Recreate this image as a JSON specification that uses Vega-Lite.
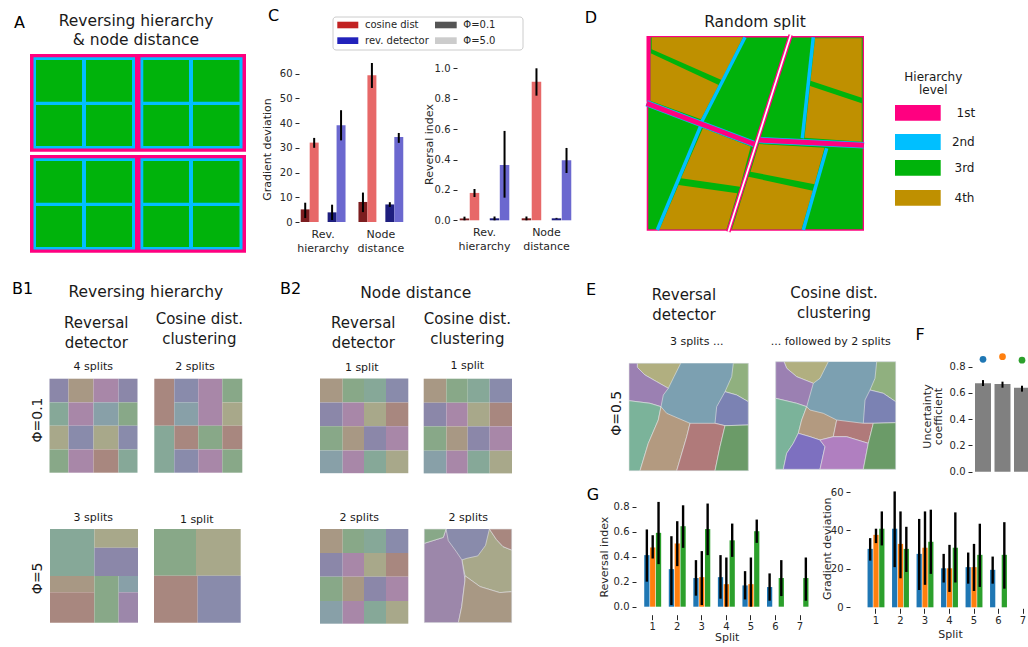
{
"$schema":"https://vega.github.io/schema/vega-lite/v6.json",
"width":1028,"height":647,"padding":0,"autosize":{"type":"none"},"background":"white",
"config":{"view":{"stroke":null},"font":"DejaVu Sans",
"axis":{"grid":false,"domain":false,"labelFont":"DejaVu Sans","titleFont":"DejaVu Sans","labelFontSize":10,"titleFontSize":11,"titleFontWeight":"normal","labelColor":"#262626","titleColor":"#262626","tickColor":"#262626","tickSize":4,"tickWidth":1,"labelPadding":3,"labelOverlap":false,"labelFlush":false},
"text":{"font":"DejaVu Sans"}},
"resolve":{"scale":{"x":"independent","y":"independent","color":"independent","xOffset":"independent"},"axis":{"x":"independent","y":"independent"}},
"datasets":{
"rects":[
{"x0":30,"x1":246,"y0":54,"y1":151.7,"c":"pink"},
{"x0":33.5,"x1":135,"y0":57.3,"y1":148.5,"c":"cyan"},
{"x0":140.5,"x1":242.5,"y0":57.3,"y1":148.5,"c":"cyan"},
{"x0":36,"x1":82,"y0":60,"y1":101.7,"c":"green"},
{"x0":86,"x1":132,"y0":60,"y1":101.7,"c":"green"},
{"x0":36,"x1":82,"y0":105,"y1":146,"c":"green"},
{"x0":86,"x1":132,"y0":105,"y1":146,"c":"green"},
{"x0":143.3,"x1":189,"y0":60,"y1":101.7,"c":"green"},
{"x0":193,"x1":239.5,"y0":60,"y1":101.7,"c":"green"},
{"x0":143.3,"x1":189,"y0":105,"y1":146,"c":"green"},
{"x0":193,"x1":239.5,"y0":105,"y1":146,"c":"green"},
{"x0":30,"x1":246,"y0":155,"y1":252.7,"c":"pink"},
{"x0":33.5,"x1":135,"y0":158.3,"y1":249.5,"c":"cyan"},
{"x0":140.5,"x1":242.5,"y0":158.3,"y1":249.5,"c":"cyan"},
{"x0":36,"x1":82,"y0":161,"y1":202.7,"c":"green"},
{"x0":86,"x1":132,"y0":161,"y1":202.7,"c":"green"},
{"x0":36,"x1":82,"y0":206,"y1":247,"c":"green"},
{"x0":86,"x1":132,"y0":206,"y1":247,"c":"green"},
{"x0":143.3,"x1":189,"y0":161,"y1":202.7,"c":"green"},
{"x0":193,"x1":239.5,"y0":161,"y1":202.7,"c":"green"},
{"x0":143.3,"x1":189,"y0":206,"y1":247,"c":"green"},
{"x0":193,"x1":239.5,"y0":206,"y1":247,"c":"green"},
{"x0":49.5,"x1":68.5,"y0":378.7,"y1":402.4,"c":"P"},
{"x0":68.5,"x1":93.5,"y0":378.7,"y1":402.4,"c":"T"},
{"x0":93.5,"x1":118.5,"y0":378.7,"y1":402.4,"c":"M"},
{"x0":118.5,"x1":137.5,"y0":378.7,"y1":402.4,"c":"P"},
{"x0":49.5,"x1":68.5,"y0":402.4,"y1":425.7,"c":"Q"},
{"x0":68.5,"x1":93.5,"y0":402.4,"y1":425.7,"c":"M"},
{"x0":93.5,"x1":118.5,"y0":402.4,"y1":425.7,"c":"S"},
{"x0":118.5,"x1":137.5,"y0":402.4,"y1":425.7,"c":"G"},
{"x0":49.5,"x1":68.5,"y0":425.7,"y1":449.4,"c":"O"},
{"x0":68.5,"x1":93.5,"y0":425.7,"y1":449.4,"c":"B"},
{"x0":93.5,"x1":118.5,"y0":425.7,"y1":449.4,"c":"O"},
{"x0":118.5,"x1":137.5,"y0":425.7,"y1":449.4,"c":"B"},
{"x0":49.5,"x1":68.5,"y0":449.4,"y1":472.7,"c":"G"},
{"x0":68.5,"x1":93.5,"y0":449.4,"y1":472.7,"c":"M"},
{"x0":93.5,"x1":118.5,"y0":449.4,"y1":472.7,"c":"R"},
{"x0":118.5,"x1":137.5,"y0":449.4,"y1":472.7,"c":"Q"},
{"x0":154.3,"x1":174.3,"y0":378.7,"y1":425.7,"c":"R"},
{"x0":174.3,"x1":198.3,"y0":378.7,"y1":402.4,"c":"B"},
{"x0":174.3,"x1":198.3,"y0":402.4,"y1":425.7,"c":"S"},
{"x0":198.3,"x1":222.3,"y0":378.7,"y1":425.7,"c":"M"},
{"x0":222.3,"x1":242.3,"y0":378.7,"y1":402.4,"c":"G"},
{"x0":222.3,"x1":242.3,"y0":402.4,"y1":425.7,"c":"O"},
{"x0":154.3,"x1":174.3,"y0":425.7,"y1":472.7,"c":"Q"},
{"x0":174.3,"x1":198.3,"y0":425.7,"y1":449.4,"c":"R"},
{"x0":174.3,"x1":198.3,"y0":449.4,"y1":472.7,"c":"B"},
{"x0":198.3,"x1":222.3,"y0":425.7,"y1":449.4,"c":"G"},
{"x0":198.3,"x1":222.3,"y0":449.4,"y1":472.7,"c":"M"},
{"x0":222.3,"x1":242.3,"y0":425.7,"y1":449.4,"c":"R"},
{"x0":222.3,"x1":242.3,"y0":449.4,"y1":472.7,"c":"G"},
{"x0":320,"x1":342.7,"y0":378.5,"y1":402.5,"c":"T"},
{"x0":342.7,"x1":364,"y0":378.5,"y1":402.5,"c":"G"},
{"x0":364,"x1":386,"y0":378.5,"y1":402.5,"c":"Q"},
{"x0":386,"x1":408.3,"y0":378.5,"y1":402.5,"c":"B"},
{"x0":320,"x1":342.7,"y0":402.5,"y1":426.2,"c":"P"},
{"x0":342.7,"x1":364,"y0":402.5,"y1":426.2,"c":"M"},
{"x0":364,"x1":386,"y0":402.5,"y1":426.2,"c":"O"},
{"x0":386,"x1":408.3,"y0":402.5,"y1":426.2,"c":"R"},
{"x0":320,"x1":342.7,"y0":426.2,"y1":450.5,"c":"G"},
{"x0":342.7,"x1":364,"y0":426.2,"y1":450.5,"c":"T"},
{"x0":364,"x1":386,"y0":426.2,"y1":450.5,"c":"P"},
{"x0":386,"x1":408.3,"y0":426.2,"y1":450.5,"c":"M"},
{"x0":320,"x1":342.7,"y0":450.5,"y1":473.2,"c":"S"},
{"x0":342.7,"x1":364,"y0":450.5,"y1":473.2,"c":"M"},
{"x0":364,"x1":386,"y0":450.5,"y1":473.2,"c":"Q"},
{"x0":386,"x1":408.3,"y0":450.5,"y1":473.2,"c":"O"},
{"x0":423.7,"x1":446.4,"y0":378.7,"y1":402.7,"c":"T"},
{"x0":446.4,"x1":467.7,"y0":378.7,"y1":402.7,"c":"G"},
{"x0":467.7,"x1":489.7,"y0":378.7,"y1":402.7,"c":"Q"},
{"x0":489.7,"x1":512,"y0":378.7,"y1":402.7,"c":"B"},
{"x0":423.7,"x1":446.4,"y0":402.7,"y1":426.4,"c":"P"},
{"x0":446.4,"x1":467.7,"y0":402.7,"y1":426.4,"c":"M"},
{"x0":467.7,"x1":489.7,"y0":402.7,"y1":426.4,"c":"O"},
{"x0":489.7,"x1":512,"y0":402.7,"y1":426.4,"c":"R"},
{"x0":423.7,"x1":446.4,"y0":426.4,"y1":450.7,"c":"G"},
{"x0":446.4,"x1":467.7,"y0":426.4,"y1":450.7,"c":"T"},
{"x0":467.7,"x1":489.7,"y0":426.4,"y1":450.7,"c":"P"},
{"x0":489.7,"x1":512,"y0":426.4,"y1":450.7,"c":"M"},
{"x0":423.7,"x1":446.4,"y0":450.7,"y1":473.4,"c":"S"},
{"x0":446.4,"x1":467.7,"y0":450.7,"y1":473.4,"c":"M"},
{"x0":467.7,"x1":489.7,"y0":450.7,"y1":473.4,"c":"Q"},
{"x0":489.7,"x1":512,"y0":450.7,"y1":473.4,"c":"O"},
{"x0":320,"x1":342.7,"y0":529,"y1":553,"c":"T"},
{"x0":342.7,"x1":364,"y0":529,"y1":553,"c":"G"},
{"x0":364,"x1":386,"y0":529,"y1":553,"c":"Q"},
{"x0":386,"x1":408.3,"y0":529,"y1":553,"c":"B"},
{"x0":320,"x1":342.7,"y0":553,"y1":576.7,"c":"P"},
{"x0":342.7,"x1":364,"y0":553,"y1":576.7,"c":"M"},
{"x0":364,"x1":386,"y0":553,"y1":576.7,"c":"O"},
{"x0":386,"x1":408.3,"y0":553,"y1":576.7,"c":"R"},
{"x0":320,"x1":342.7,"y0":576.7,"y1":601,"c":"G"},
{"x0":342.7,"x1":364,"y0":576.7,"y1":601,"c":"T"},
{"x0":364,"x1":386,"y0":576.7,"y1":601,"c":"P"},
{"x0":386,"x1":408.3,"y0":576.7,"y1":601,"c":"M"},
{"x0":320,"x1":342.7,"y0":601,"y1":623.7,"c":"S"},
{"x0":342.7,"x1":364,"y0":601,"y1":623.7,"c":"M"},
{"x0":364,"x1":386,"y0":601,"y1":623.7,"c":"Q"},
{"x0":386,"x1":408.3,"y0":601,"y1":623.7,"c":"O"},
{"x0":50,"x1":94.4,"y0":529,"y1":576,"c":"Q"},
{"x0":94.4,"x1":138,"y0":529,"y1":547.8,"c":"O"},
{"x0":94.4,"x1":138,"y0":547.8,"y1":576,"c":"P"},
{"x0":50,"x1":94.4,"y0":576,"y1":592.3,"c":"T"},
{"x0":50,"x1":94.4,"y0":592.3,"y1":622.7,"c":"R"},
{"x0":94.4,"x1":118.6,"y0":576,"y1":622.7,"c":"G"},
{"x0":118.6,"x1":138,"y0":576,"y1":592.3,"c":"S"},
{"x0":118.6,"x1":138,"y0":592.3,"y1":622.7,"c":"V"},
{"x0":154,"x1":196,"y0":529,"y1":575.7,"c":"G"},
{"x0":196,"x1":240.7,"y0":529,"y1":575.7,"c":"O"},
{"x0":154,"x1":197.7,"y0":575.7,"y1":622.7,"c":"R"},
{"x0":197.7,"x1":240.7,"y0":575.7,"y1":622.7,"c":"B"},
{"x0":424.3,"x1":511.7,"y0":529,"y1":622.6,"c":"B"},
{"x0":629,"x1":748.3,"y0":363.3,"y1":470.7,"c":"eS"},
{"x0":775.7,"x1":895.7,"y0":361.7,"y1":469.3,"c":"eS"},
{"x0":337.3,"x1":358.3,"y0":21.7,"y1":28.3,"c":"lred"},
{"x0":337.3,"x1":358.3,"y0":37.3,"y1":44,"c":"lblue"},
{"x0":435,"x1":456.7,"y0":21.7,"y1":28.3,"c":"ldark"},
{"x0":435,"x1":456.7,"y0":37.3,"y1":44,"c":"llight"},
{"x0":646.7,"x1":864,"y0":36,"y1":230.7,"c":"pink"},
{"x0":648.3,"x1":862.7,"y0":37.5,"y1":229.3,"c":"green"},
{"x0":646.7,"x1":650.7,"y0":36,"y1":101.7,"c":"pink"},
{"x0":895,"x1":940.7,"y0":105,"y1":120.7,"c":"pink"},
{"x0":895,"x1":940.7,"y0":134,"y1":150,"c":"cyan"},
{"x0":895,"x1":940.7,"y0":160,"y1":175.7,"c":"green"},
{"x0":895,"x1":940.7,"y0":190,"y1":205.7,"c":"gold"}
],
"polys":[
{"id":"d1","g":"d","c":"gold","i":0,"x":651.7,"y":37.3},{"id":"d1","g":"d","c":"gold","i":1,"x":743,"y":37.3},{"id":"d1","g":"d","c":"gold","i":2,"x":721.5,"y":80},{"id":"d1","g":"d","c":"gold","i":3,"x":651.7,"y":49.3},
{"id":"d2","g":"d","c":"gold","i":0,"x":650.7,"y":53.3},{"id":"d2","g":"d","c":"gold","i":1,"x":718.7,"y":85},{"id":"d2","g":"d","c":"gold","i":2,"x":701,"y":119.3},{"id":"d2","g":"d","c":"gold","i":3,"x":650.7,"y":101},
{"id":"d3","g":"d","c":"gold","i":0,"x":815,"y":38.3},{"id":"d3","g":"d","c":"gold","i":1,"x":861.7,"y":38.3},{"id":"d3","g":"d","c":"gold","i":2,"x":861.7,"y":97.7},{"id":"d3","g":"d","c":"gold","i":3,"x":810.5,"y":80.7},
{"id":"d4","g":"d","c":"gold","i":0,"x":810,"y":86},{"id":"d4","g":"d","c":"gold","i":1,"x":861.7,"y":103.3},{"id":"d4","g":"d","c":"gold","i":2,"x":861.7,"y":141.7},{"id":"d4","g":"d","c":"gold","i":3,"x":804.5,"y":137.7},
{"id":"d5","g":"d","c":"gold","i":0,"x":703,"y":128},{"id":"d5","g":"d","c":"gold","i":1,"x":750.7,"y":146.5},{"id":"d5","g":"d","c":"gold","i":2,"x":740,"y":186.7},{"id":"d5","g":"d","c":"gold","i":3,"x":681,"y":178.3},
{"id":"d6","g":"d","c":"gold","i":0,"x":678.5,"y":185},{"id":"d6","g":"d","c":"gold","i":1,"x":737.3,"y":193.3},{"id":"d6","g":"d","c":"gold","i":2,"x":726.5,"y":229.3},{"id":"d6","g":"d","c":"gold","i":3,"x":659.5,"y":229.3},
{"id":"d7","g":"d","c":"gold","i":0,"x":759,"y":144},{"id":"d7","g":"d","c":"gold","i":1,"x":824.5,"y":147.7},{"id":"d7","g":"d","c":"gold","i":2,"x":814.5,"y":184.3},{"id":"d7","g":"d","c":"gold","i":3,"x":750.5,"y":171.7},
{"id":"d8","g":"d","c":"gold","i":0,"x":748.5,"y":176.7},{"id":"d8","g":"d","c":"gold","i":1,"x":812.8,"y":190.7},{"id":"d8","g":"d","c":"gold","i":2,"x":801.5,"y":229.3},{"id":"d8","g":"d","c":"gold","i":3,"x":732,"y":229.3},
{"id":"b1","g":"img","c":"O","i":0,"x":489.4,"y":529},{"id":"b1","g":"img","c":"O","i":1,"x":496.4,"y":539.5},{"id":"b1","g":"img","c":"O","i":2,"x":503,"y":546.6},{"id":"b1","g":"img","c":"O","i":3,"x":511.7,"y":550.1},{"id":"b1","g":"img","c":"O","i":4,"x":511.7,"y":591.7},{"id":"b1","g":"img","c":"O","i":5,"x":499.7,"y":592.6},{"id":"b1","g":"img","c":"O","i":6,"x":480,"y":586.6},{"id":"b1","g":"img","c":"O","i":7,"x":465,"y":575.8},{"id":"b1","g":"img","c":"O","i":8,"x":461.9,"y":559.9},{"id":"b1","g":"img","c":"O","i":9,"x":466.9,"y":558.3},{"id":"b1","g":"img","c":"O","i":10,"x":477.8,"y":555.9},{"id":"b1","g":"img","c":"O","i":11,"x":485.5,"y":545.4},
{"id":"b2","g":"img","c":"V","i":0,"x":424.3,"y":543.3},{"id":"b2","g":"img","c":"V","i":1,"x":443.3,"y":537.4},{"id":"b2","g":"img","c":"V","i":2,"x":446,"y":529},{"id":"b2","g":"img","c":"V","i":3,"x":448.3,"y":540.7},{"id":"b2","g":"img","c":"V","i":4,"x":456,"y":551.2},{"id":"b2","g":"img","c":"V","i":5,"x":461.9,"y":559.9},{"id":"b2","g":"img","c":"V","i":6,"x":465,"y":580},{"id":"b2","g":"img","c":"V","i":7,"x":461.7,"y":606.7},{"id":"b2","g":"img","c":"V","i":8,"x":458.4,"y":622.6},{"id":"b2","g":"img","c":"V","i":9,"x":424.3,"y":622.6},
{"id":"b3","g":"img","c":"T","i":0,"x":465,"y":575.8},{"id":"b3","g":"img","c":"T","i":1,"x":480,"y":586.6},{"id":"b3","g":"img","c":"T","i":2,"x":499.7,"y":592.6},{"id":"b3","g":"img","c":"T","i":3,"x":511.7,"y":591.7},{"id":"b3","g":"img","c":"T","i":4,"x":511.7,"y":622.6},{"id":"b3","g":"img","c":"T","i":5,"x":458.4,"y":622.6},{"id":"b3","g":"img","c":"T","i":6,"x":461.7,"y":606.7},{"id":"b3","g":"img","c":"T","i":7,"x":465,"y":580},
{"id":"b5","g":"img","c":"R","i":0,"x":489.4,"y":529},{"id":"b5","g":"img","c":"R","i":1,"x":511.7,"y":529},{"id":"b5","g":"img","c":"R","i":2,"x":511.7,"y":550.1},{"id":"b5","g":"img","c":"R","i":3,"x":503,"y":546.6},{"id":"b5","g":"img","c":"R","i":4,"x":496.4,"y":539.5},
{"id":"b6","g":"img","c":"G","i":0,"x":424.3,"y":529},{"id":"b6","g":"img","c":"G","i":1,"x":446,"y":529},{"id":"b6","g":"img","c":"G","i":2,"x":443.3,"y":537.4},{"id":"b6","g":"img","c":"G","i":3,"x":424.3,"y":543.3},
{"id":"e1","g":"img","c":"eO","i":0,"x":637.3,"y":363.3},{"id":"e1","g":"img","c":"eO","i":1,"x":680.7,"y":363.3},{"id":"e1","g":"img","c":"eO","i":2,"x":674,"y":376.7},{"id":"e1","g":"img","c":"eO","i":3,"x":668.3,"y":388.3},{"id":"e1","g":"img","c":"eO","i":4,"x":656.7,"y":381.7},{"id":"e1","g":"img","c":"eO","i":5,"x":645,"y":375},{"id":"e1","g":"img","c":"eO","i":6,"x":637.3,"y":367.3},
{"id":"e2","g":"img","c":"eP","i":0,"x":629,"y":363.3},{"id":"e2","g":"img","c":"eP","i":1,"x":637.3,"y":363.3},{"id":"e2","g":"img","c":"eP","i":2,"x":637.3,"y":367.3},{"id":"e2","g":"img","c":"eP","i":3,"x":645,"y":375},{"id":"e2","g":"img","c":"eP","i":4,"x":656.7,"y":381.7},{"id":"e2","g":"img","c":"eP","i":5,"x":668.3,"y":388.3},{"id":"e2","g":"img","c":"eP","i":6,"x":663.3,"y":395},{"id":"e2","g":"img","c":"eP","i":7,"x":661,"y":406.7},{"id":"e2","g":"img","c":"eP","i":8,"x":650,"y":403.3},{"id":"e2","g":"img","c":"eP","i":9,"x":629,"y":400.7},
{"id":"e4","g":"img","c":"eG","i":0,"x":733.3,"y":363.3},{"id":"e4","g":"img","c":"eG","i":1,"x":748.3,"y":363.3},{"id":"e4","g":"img","c":"eG","i":2,"x":748.3,"y":401.7},{"id":"e4","g":"img","c":"eG","i":3,"x":736.7,"y":395},{"id":"e4","g":"img","c":"eG","i":4,"x":725,"y":391.7},{"id":"e4","g":"img","c":"eG","i":5,"x":731.7,"y":376.7},
{"id":"e5","g":"img","c":"eL","i":0,"x":725,"y":391.7},{"id":"e5","g":"img","c":"eL","i":1,"x":736.7,"y":395},{"id":"e5","g":"img","c":"eL","i":2,"x":748.3,"y":401.7},{"id":"e5","g":"img","c":"eL","i":3,"x":748.3,"y":425},{"id":"e5","g":"img","c":"eL","i":4,"x":725,"y":425.7},{"id":"e5","g":"img","c":"eL","i":5,"x":715,"y":423.3},{"id":"e5","g":"img","c":"eL","i":6,"x":716.7,"y":406.7},
{"id":"e6","g":"img","c":"eQ","i":0,"x":629,"y":400.7},{"id":"e6","g":"img","c":"eQ","i":1,"x":650,"y":403.3},{"id":"e6","g":"img","c":"eQ","i":2,"x":661,"y":406.7},{"id":"e6","g":"img","c":"eQ","i":3,"x":658.3,"y":420},{"id":"e6","g":"img","c":"eQ","i":4,"x":648.3,"y":443.3},{"id":"e6","g":"img","c":"eQ","i":5,"x":640,"y":470.7},{"id":"e6","g":"img","c":"eQ","i":6,"x":629,"y":470.7},
{"id":"e7","g":"img","c":"eT","i":0,"x":661,"y":406.7},{"id":"e7","g":"img","c":"eT","i":1,"x":666.7,"y":413.3},{"id":"e7","g":"img","c":"eT","i":2,"x":690,"y":423.3},{"id":"e7","g":"img","c":"eT","i":3,"x":686.7,"y":436.7},{"id":"e7","g":"img","c":"eT","i":4,"x":676.7,"y":470.7},{"id":"e7","g":"img","c":"eT","i":5,"x":640,"y":470.7},{"id":"e7","g":"img","c":"eT","i":6,"x":648.3,"y":443.3},{"id":"e7","g":"img","c":"eT","i":7,"x":658.3,"y":420},
{"id":"e8","g":"img","c":"eR","i":0,"x":690,"y":423.3},{"id":"e8","g":"img","c":"eR","i":1,"x":715,"y":423.3},{"id":"e8","g":"img","c":"eR","i":2,"x":725,"y":425.7},{"id":"e8","g":"img","c":"eR","i":3,"x":720,"y":446.7},{"id":"e8","g":"img","c":"eR","i":4,"x":715,"y":470.7},{"id":"e8","g":"img","c":"eR","i":5,"x":676.7,"y":470.7},{"id":"e8","g":"img","c":"eR","i":6,"x":686.7,"y":436.7},
{"id":"e9","g":"img","c":"eD","i":0,"x":725,"y":425.7},{"id":"e9","g":"img","c":"eD","i":1,"x":748.3,"y":425},{"id":"e9","g":"img","c":"eD","i":2,"x":748.3,"y":470.7},{"id":"e9","g":"img","c":"eD","i":3,"x":715,"y":470.7},{"id":"e9","g":"img","c":"eD","i":4,"x":720,"y":446.7},
{"id":"f1","g":"img","c":"eO","i":0,"x":784,"y":361.7},{"id":"f1","g":"img","c":"eO","i":1,"x":828.3,"y":361.7},{"id":"f1","g":"img","c":"eO","i":2,"x":820,"y":378.3},{"id":"f1","g":"img","c":"eO","i":3,"x":813.3,"y":383.3},{"id":"f1","g":"img","c":"eO","i":4,"x":796.7,"y":376.7},{"id":"f1","g":"img","c":"eO","i":5,"x":786.7,"y":368.3},
{"id":"f2","g":"img","c":"eP","i":0,"x":775.7,"y":361.7},{"id":"f2","g":"img","c":"eP","i":1,"x":784,"y":361.7},{"id":"f2","g":"img","c":"eP","i":2,"x":786.7,"y":368.3},{"id":"f2","g":"img","c":"eP","i":3,"x":796.7,"y":376.7},{"id":"f2","g":"img","c":"eP","i":4,"x":813.3,"y":383.3},{"id":"f2","g":"img","c":"eP","i":5,"x":810,"y":395},{"id":"f2","g":"img","c":"eP","i":6,"x":806.7,"y":406.7},{"id":"f2","g":"img","c":"eP","i":7,"x":796.7,"y":403.3},{"id":"f2","g":"img","c":"eP","i":8,"x":775.7,"y":398.3},
{"id":"f4","g":"img","c":"eG","i":0,"x":876.7,"y":361.7},{"id":"f4","g":"img","c":"eG","i":1,"x":895.7,"y":361.7},{"id":"f4","g":"img","c":"eG","i":2,"x":895.7,"y":401.7},{"id":"f4","g":"img","c":"eG","i":3,"x":883.3,"y":393.3},{"id":"f4","g":"img","c":"eG","i":4,"x":870,"y":390},{"id":"f4","g":"img","c":"eG","i":5,"x":875,"y":378.3},
{"id":"f5","g":"img","c":"eL","i":0,"x":870,"y":390},{"id":"f5","g":"img","c":"eL","i":1,"x":883.3,"y":393.3},{"id":"f5","g":"img","c":"eL","i":2,"x":895.7,"y":401.7},{"id":"f5","g":"img","c":"eL","i":3,"x":895.7,"y":422.7},{"id":"f5","g":"img","c":"eL","i":4,"x":873.3,"y":423.3},{"id":"f5","g":"img","c":"eL","i":5,"x":863.3,"y":423.3},{"id":"f5","g":"img","c":"eL","i":6,"x":865,"y":400},
{"id":"f6","g":"img","c":"eQ","i":0,"x":775.7,"y":398.3},{"id":"f6","g":"img","c":"eQ","i":1,"x":796.7,"y":403.3},{"id":"f6","g":"img","c":"eQ","i":2,"x":806.7,"y":406.7},{"id":"f6","g":"img","c":"eQ","i":3,"x":801.7,"y":420},{"id":"f6","g":"img","c":"eQ","i":4,"x":798.3,"y":433.3},{"id":"f6","g":"img","c":"eQ","i":5,"x":793.3,"y":443.3},{"id":"f6","g":"img","c":"eQ","i":6,"x":786.7,"y":453.3},{"id":"f6","g":"img","c":"eQ","i":7,"x":783.3,"y":469.3},{"id":"f6","g":"img","c":"eQ","i":8,"x":775.7,"y":469.3},
{"id":"f7","g":"img","c":"eT","i":0,"x":806.7,"y":406.7},{"id":"f7","g":"img","c":"eT","i":1,"x":810,"y":410},{"id":"f7","g":"img","c":"eT","i":2,"x":823.3,"y":413.3},{"id":"f7","g":"img","c":"eT","i":3,"x":836.7,"y":420},{"id":"f7","g":"img","c":"eT","i":4,"x":833.3,"y":436.7},{"id":"f7","g":"img","c":"eT","i":5,"x":820,"y":440},{"id":"f7","g":"img","c":"eT","i":6,"x":810,"y":436.7},{"id":"f7","g":"img","c":"eT","i":7,"x":798.3,"y":433.3},{"id":"f7","g":"img","c":"eT","i":8,"x":801.7,"y":420},
{"id":"f8","g":"img","c":"eR","i":0,"x":836.7,"y":420},{"id":"f8","g":"img","c":"eR","i":1,"x":863.3,"y":423.3},{"id":"f8","g":"img","c":"eR","i":2,"x":873.3,"y":423.3},{"id":"f8","g":"img","c":"eR","i":3,"x":868.3,"y":443.3},{"id":"f8","g":"img","c":"eR","i":4,"x":846.7,"y":436.7},{"id":"f8","g":"img","c":"eR","i":5,"x":833.3,"y":436.7},
{"id":"f9","g":"img","c":"eV","i":0,"x":798.3,"y":433.3},{"id":"f9","g":"img","c":"eV","i":1,"x":810,"y":436.7},{"id":"f9","g":"img","c":"eV","i":2,"x":820,"y":440},{"id":"f9","g":"img","c":"eV","i":3,"x":825,"y":446.7},{"id":"f9","g":"img","c":"eV","i":4,"x":820,"y":469.3},{"id":"f9","g":"img","c":"eV","i":5,"x":783.3,"y":469.3},{"id":"f9","g":"img","c":"eV","i":6,"x":786.7,"y":453.3},{"id":"f9","g":"img","c":"eV","i":7,"x":793.3,"y":443.3},
{"id":"f10","g":"img","c":"eK","i":0,"x":833.3,"y":436.7},{"id":"f10","g":"img","c":"eK","i":1,"x":846.7,"y":436.7},{"id":"f10","g":"img","c":"eK","i":2,"x":868.3,"y":443.3},{"id":"f10","g":"img","c":"eK","i":3,"x":863.3,"y":469.3},{"id":"f10","g":"img","c":"eK","i":4,"x":820,"y":469.3},{"id":"f10","g":"img","c":"eK","i":5,"x":825,"y":446.7},{"id":"f10","g":"img","c":"eK","i":6,"x":820,"y":440},
{"id":"f11","g":"img","c":"eD","i":0,"x":873.3,"y":423.3},{"id":"f11","g":"img","c":"eD","i":1,"x":895.7,"y":422.7},{"id":"f11","g":"img","c":"eD","i":2,"x":895.7,"y":469.3},{"id":"f11","g":"img","c":"eD","i":3,"x":863.3,"y":469.3},{"id":"f11","g":"img","c":"eD","i":4,"x":868.3,"y":443.3}
],
"dlines":[
{"k":"l2","x":745,"y":37.3,"x2":701.7,"y2":121.7},
{"k":"l2","x":700.7,"y":126,"x2":657.3,"y2":230},
{"k":"l2","x":813.3,"y":37.3,"x2":802.3,"y2":138.3},
{"k":"l2","x":826.7,"y":148.3,"x2":803.3,"y2":230},
{"k":"l1","x":646.7,"y":103.3,"x2":754,"y2":144},
{"k":"l1","x":759.3,"y":140,"x2":864,"y2":145.3},
{"k":"split","x":790.7,"y":35,"x2":728.3,"y2":231.7}
],
"texts":[
{"r":"letter","t":"A","x":19.5,"y":23},{"r":"letter","t":"C","x":273.7,"y":15.7},{"r":"letter","t":"D","x":591,"y":18},{"r":"letter","t":"B1","x":22.5,"y":289},{"r":"letter","t":"B2","x":290.5,"y":289},{"r":"letter","t":"E","x":591,"y":290},{"r":"letter","t":"F","x":920,"y":335},{"r":"letter","t":"G","x":593,"y":495},
{"r":"title","t":"Reversing hierarchy","x":136,"y":20.7},{"r":"title","t":"& node distance","x":136,"y":40},{"r":"title","t":"Random split","x":755,"y":21.7},{"r":"title","t":"Reversing hierarchy","x":145.8,"y":291.7},{"r":"title","t":"Node distance","x":415.8,"y":293.3},
{"r":"sub","t":"Reversal","x":96.3,"y":323.3},{"r":"sub","t":"detector","x":96.3,"y":342.7},{"r":"sub","t":"Cosine dist.","x":199.3,"y":319},{"r":"sub","t":"clustering","x":199.3,"y":338.7},
{"r":"sub","t":"Reversal","x":363.3,"y":323.3},{"r":"sub","t":"detector","x":363.3,"y":342.7},{"r":"sub","t":"Cosine dist.","x":467.3,"y":319},{"r":"sub","t":"clustering","x":467.3,"y":338.7},
{"r":"sub","t":"Reversal","x":684,"y":295},{"r":"sub","t":"detector","x":684,"y":315},{"r":"sub","t":"Cosine dist.","x":834,"y":293.3},{"r":"sub","t":"clustering","x":834,"y":313.3},
{"r":"note","t":"4 splits","x":93.3,"y":367.3},{"r":"note","t":"2 splits","x":195,"y":367.3},{"r":"note","t":"1 split","x":361.7,"y":368.3},{"r":"note","t":"1 split","x":467.3,"y":366},
{"r":"note","t":"3 splits","x":93.3,"y":518.3},{"r":"note","t":"1 split","x":196.7,"y":520},{"r":"note","t":"2 splits","x":359.3,"y":518.3},{"r":"note","t":"2 splits","x":468.3,"y":518.3},
{"r":"note","t":"3 splits ...","x":696.7,"y":341.7},{"r":"note","t":"... followed by 2 splits","x":830.7,"y":341.7},
{"r":"rot","t":"Φ=0.1","x":38.3,"y":420},{"r":"rot","t":"Φ=5","x":38.3,"y":578.3},{"r":"rot","t":"Φ=0.5","x":617,"y":413.3},
{"r":"dleg","t":"Hierarchy","x":933.3,"y":76.7},{"r":"dleg","t":"level","x":933.3,"y":90},{"r":"dleg","t":"1st","x":965.8,"y":113.3},{"r":"dleg","t":"2nd","x":963.3,"y":142.3},{"r":"dleg","t":"3rd","x":964.5,"y":168.3},{"r":"dleg","t":"4th","x":964.5,"y":198.3},
{"r":"cleg","t":"cosine dist","x":365,"y":25},{"r":"cleg","t":"rev. detector","x":365,"y":40.7},{"r":"cleg","t":"Φ=0.1","x":463.3,"y":25},{"r":"cleg","t":"Φ=5.0","x":463.3,"y":40.7}
],
"c1":[
{"g":"Rev. hierarchy","s":"cos01","v":5.1,"lo":1.6,"hi":7.8},
{"g":"Rev. hierarchy","s":"cos5","v":32.1,"lo":30.0,"hi":34.0},
{"g":"Rev. hierarchy","s":"rev01","v":3.9,"lo":0.8,"hi":7.0},
{"g":"Rev. hierarchy","s":"rev5","v":39.1,"lo":33.0,"hi":45.2},
{"g":"Node distance","s":"cos01","v":8.1,"lo":4.0,"hi":11.9},
{"g":"Node distance","s":"cos5","v":59.3,"lo":54.2,"hi":64.3},
{"g":"Node distance","s":"rev01","v":7.1,"lo":6.1,"hi":8.0},
{"g":"Node distance","s":"rev5","v":34.4,"lo":32.0,"hi":36.0}
],
"c2":[
{"g":"Rev. hierarchy","s":"cos01","v":0.012,"lo":0.0,"hi":0.024},
{"g":"Rev. hierarchy","s":"cos5","v":0.18,"lo":0.153,"hi":0.206},
{"g":"Rev. hierarchy","s":"rev01","v":0.013,"lo":0.0,"hi":0.025},
{"g":"Rev. hierarchy","s":"rev5","v":0.364,"lo":0.149,"hi":0.588},
{"g":"Node distance","s":"cos01","v":0.013,"lo":0.0,"hi":0.025},
{"g":"Node distance","s":"cos5","v":0.912,"lo":0.82,"hi":1.0},
{"g":"Node distance","s":"rev01","v":0.013,"lo":0.01,"hi":0.016},
{"g":"Node distance","s":"rev5","v":0.395,"lo":0.311,"hi":0.476}
],
"f":[
{"m":"m1","v":0.673,"lo":0.653,"hi":0.698,"u":0.856},
{"m":"m2","v":0.668,"lo":0.64,"hi":0.686,"u":0.876},
{"m":"m3","v":0.64,"lo":0.61,"hi":0.655,"u":0.85}
],
"g1":[
{"sp":"1","m":"m1","v":0.412,"lo":0.2,"hi":0.617},{"sp":"1","m":"m2","v":0.473,"lo":0.385,"hi":0.571},{"sp":"1","m":"m3","v":0.59,"lo":0.34,"hi":0.837},
{"sp":"2","m":"m1","v":0.30,"lo":0.013,"hi":0.563},{"sp":"2","m":"m2","v":0.505,"lo":0.324,"hi":0.683},{"sp":"2","m":"m3","v":0.643,"lo":0.47,"hi":0.81},
{"sp":"3","m":"m1","v":0.229,"lo":0.088,"hi":0.372},{"sp":"3","m":"m2","v":0.236,"lo":0.013,"hi":0.444},{"sp":"3","m":"m3","v":0.62,"lo":0.412,"hi":0.824},
{"sp":"4","m":"m1","v":0.236,"lo":0.064,"hi":0.412},{"sp":"4","m":"m2","v":0.18,"lo":0.0,"hi":0.393},{"sp":"4","m":"m3","v":0.53,"lo":0.398,"hi":0.664},
{"sp":"5","m":"m1","v":0.17,"lo":0.058,"hi":0.284},{"sp":"5","m":"m2","v":0.18,"lo":0.0,"hi":0.393},{"sp":"5","m":"m3","v":0.603,"lo":0.51,"hi":0.696},
{"sp":"6","m":"m1","v":0.157,"lo":0.048,"hi":0.266},{"sp":"6","m":"m3","v":0.229,"lo":0.085,"hi":0.372},
{"sp":"7","m":"m3","v":0.229,"lo":0.048,"hi":0.393}
],
"g2":[
{"sp":"1","m":"m1","v":30.4,"lo":24.3,"hi":36},{"sp":"1","m":"m2","v":37.7,"lo":33.4,"hi":40.9},{"sp":"1","m":"m3","v":40.9,"lo":32.2,"hi":49.9},
{"sp":"2","m":"m1","v":40.9,"lo":20.9,"hi":60.3},{"sp":"2","m":"m2","v":33.0,"lo":15.1,"hi":49.9},{"sp":"2","m":"m3","v":30.4,"lo":18.4,"hi":41.9},
{"sp":"3","m":"m1","v":27.8,"lo":9,"hi":46},{"sp":"3","m":"m2","v":31.0,"lo":11.7,"hi":49.9},{"sp":"3","m":"m3","v":34.1,"lo":17.4,"hi":50.8},
{"sp":"4","m":"m1","v":20.3,"lo":12.9,"hi":27.8},{"sp":"4","m":"m2","v":20.3,"lo":8,"hi":32.5},{"sp":"4","m":"m3","v":31.0,"lo":12.9,"hi":49.4},
{"sp":"5","m":"m1","v":20.9,"lo":12.3,"hi":28.5},{"sp":"5","m":"m2","v":20.9,"lo":8.5,"hi":33},{"sp":"5","m":"m3","v":27.3,"lo":10.6,"hi":43.5},
{"sp":"6","m":"m1","v":19.5,"lo":12.3,"hi":26.4},{"sp":"6","m":"m3","v":27.3,"lo":9.7,"hi":44.3}
]
},
"layer":[
{"layer":[
 {"data":{"values":[{"x0":333,"x1":523,"y0":17,"y1":50}]},"mark":{"type":"rect","fill":"white","stroke":"#cccccc","strokeWidth":1,"cornerRadius":3},
  "encoding":{"x":{"field":"x0","type":"quantitative","scale":{"domain":[0,1028],"nice":false,"zero":false},"axis":null},"x2":{"field":"x1"},"y":{"field":"y0","type":"quantitative","scale":{"domain":[0,647],"range":[0,647],"nice":false,"zero":false},"axis":null},"y2":{"field":"y1"}}},
 {"data":{"name":"rects"},"mark":{"type":"rect"},
  "encoding":{"x":{"field":"x0","type":"quantitative","scale":{"domain":[0,1028],"nice":false,"zero":false},"axis":null},"x2":{"field":"x1"},"y":{"field":"y0","type":"quantitative","scale":{"domain":[0,647],"range":[0,647],"nice":false,"zero":false},"axis":null},"y2":{"field":"y1"},
  "color":{"field":"c","type":"nominal","legend":null,"scale":{"domain":["pink","cyan","green","gold","P","B","T","M","G","Q","S","O","R","V","eO","eP","eS","eG","eL","eQ","eT","eR","eD","eV","eK","lred","lblue","ldark","llight"],"range":["#ff0080","#00bfff","#00b30b","#bf9000","#8b87a9","#898bab","#a89884","#a887a8","#88a888","#86a898","#88a0a8","#a8a88a","#a8877f","#9c87aa","#b1af80","#9b80b2","#7ca0b1","#90b07f","#7b82b3","#7bb39a","#b39a80","#b07a7a","#6b9b68","#7d70c0","#b07fc0","#c22222","#2222bb","#555555","#cccccc"]}}}},
 {"data":{"name":"polys"},"transform":[{"filter":"datum.g == 'd'"}],"mark":{"type":"line","filled":true,"interpolate":"linear-closed","strokeWidth":0},
  "encoding":{"x":{"field":"x","type":"quantitative","scale":{"domain":[0,1028],"nice":false,"zero":false},"axis":null},"y":{"field":"y","type":"quantitative","scale":{"domain":[0,647],"range":[0,647],"nice":false,"zero":false},"axis":null},"order":{"field":"i","type":"quantitative"},"detail":{"field":"id","type":"nominal"},
  "color":{"field":"c","type":"nominal","legend":null}}},
 {"data":{"name":"polys"},"transform":[{"filter":"datum.g == 'img'"}],"mark":{"type":"line","filled":true,"interpolate":"linear-closed","stroke":"#e4e4e4","strokeWidth":0.6},
  "encoding":{"x":{"field":"x","type":"quantitative","scale":{"domain":[0,1028],"nice":false,"zero":false},"axis":null},"y":{"field":"y","type":"quantitative","scale":{"domain":[0,647],"range":[0,647],"nice":false,"zero":false},"axis":null},"order":{"field":"i","type":"quantitative"},"detail":{"field":"id","type":"nominal"},
  "color":{"field":"c","type":"nominal","legend":null}}},
 {"data":{"name":"dlines"},"transform":[{"filter":"datum.k == 'l2'"}],"mark":{"type":"rule","color":"#00bfff","strokeWidth":3.5},
  "encoding":{"x":{"field":"x","type":"quantitative","scale":{"domain":[0,1028],"nice":false,"zero":false},"axis":null},"y":{"field":"y","type":"quantitative","scale":{"domain":[0,647],"range":[0,647],"nice":false,"zero":false},"axis":null},"x2":{"field":"x2"},"y2":{"field":"y2"}}},
 {"data":{"name":"dlines"},"transform":[{"filter":"datum.k == 'l1'"}],"mark":{"type":"rule","color":"#00bfff","strokeWidth":6.5},
  "encoding":{"x":{"field":"x","type":"quantitative","scale":{"domain":[0,1028],"nice":false,"zero":false},"axis":null},"y":{"field":"y","type":"quantitative","scale":{"domain":[0,647],"range":[0,647],"nice":false,"zero":false},"axis":null},"x2":{"field":"x2"},"y2":{"field":"y2"}}},
 {"data":{"name":"dlines"},"transform":[{"filter":"datum.k == 'l1'"}],"mark":{"type":"rule","color":"#ff0080","strokeWidth":5},
  "encoding":{"x":{"field":"x","type":"quantitative","scale":{"domain":[0,1028],"nice":false,"zero":false},"axis":null},"y":{"field":"y","type":"quantitative","scale":{"domain":[0,647],"range":[0,647],"nice":false,"zero":false},"axis":null},"x2":{"field":"x2"},"y2":{"field":"y2"}}},
 {"data":{"name":"dlines"},"transform":[{"filter":"datum.k == 'split'"}],"mark":{"type":"rule","color":"#ff0080","strokeWidth":4.5},
  "encoding":{"x":{"field":"x","type":"quantitative","scale":{"domain":[0,1028],"nice":false,"zero":false},"axis":null},"y":{"field":"y","type":"quantitative","scale":{"domain":[0,647],"range":[0,647],"nice":false,"zero":false},"axis":null},"x2":{"field":"x2"},"y2":{"field":"y2"}}},
 {"data":{"name":"dlines"},"transform":[{"filter":"datum.k == 'split'"}],"mark":{"type":"rule","color":"#ffffff","strokeWidth":1.8},
  "encoding":{"x":{"field":"x","type":"quantitative","scale":{"domain":[0,1028],"nice":false,"zero":false},"axis":null},"y":{"field":"y","type":"quantitative","scale":{"domain":[0,647],"range":[0,647],"nice":false,"zero":false},"axis":null},"x2":{"field":"x2"},"y2":{"field":"y2"}}},
 {"data":{"name":"texts"},"transform":[{"filter":"datum.r == 'letter'"}],"mark":{"type":"text","fontSize":16,"color":"#000000","align":"center","baseline":"middle"},
  "encoding":{"x":{"field":"x","type":"quantitative","scale":{"domain":[0,1028],"nice":false,"zero":false},"axis":null},"y":{"field":"y","type":"quantitative","scale":{"domain":[0,647],"range":[0,647],"nice":false,"zero":false},"axis":null},"text":{"field":"t"}}},
 {"data":{"name":"texts"},"transform":[{"filter":"datum.r == 'title'"}],"mark":{"type":"text","fontSize":15.5,"color":"#1a1a1a","align":"center","baseline":"middle"},
  "encoding":{"x":{"field":"x","type":"quantitative","scale":{"domain":[0,1028],"nice":false,"zero":false},"axis":null},"y":{"field":"y","type":"quantitative","scale":{"domain":[0,647],"range":[0,647],"nice":false,"zero":false},"axis":null},"text":{"field":"t"}}},
 {"data":{"name":"texts"},"transform":[{"filter":"datum.r == 'sub'"}],"mark":{"type":"text","fontSize":15,"color":"#1a1a1a","align":"center","baseline":"middle"},
  "encoding":{"x":{"field":"x","type":"quantitative","scale":{"domain":[0,1028],"nice":false,"zero":false},"axis":null},"y":{"field":"y","type":"quantitative","scale":{"domain":[0,647],"range":[0,647],"nice":false,"zero":false},"axis":null},"text":{"field":"t"}}},
 {"data":{"name":"texts"},"transform":[{"filter":"datum.r == 'note'"}],"mark":{"type":"text","fontSize":11,"color":"#1a1a1a","align":"center","baseline":"middle"},
  "encoding":{"x":{"field":"x","type":"quantitative","scale":{"domain":[0,1028],"nice":false,"zero":false},"axis":null},"y":{"field":"y","type":"quantitative","scale":{"domain":[0,647],"range":[0,647],"nice":false,"zero":false},"axis":null},"text":{"field":"t"}}},
 {"data":{"name":"texts"},"transform":[{"filter":"datum.r == 'rot'"}],"mark":{"type":"text","fontSize":14,"color":"#1a1a1a","align":"center","baseline":"middle","angle":270},
  "encoding":{"x":{"field":"x","type":"quantitative","scale":{"domain":[0,1028],"nice":false,"zero":false},"axis":null},"y":{"field":"y","type":"quantitative","scale":{"domain":[0,647],"range":[0,647],"nice":false,"zero":false},"axis":null},"text":{"field":"t"}}},
 {"data":{"name":"texts"},"transform":[{"filter":"datum.r == 'dleg'"}],"mark":{"type":"text","fontSize":12,"color":"#1a1a1a","align":"center","baseline":"middle"},
  "encoding":{"x":{"field":"x","type":"quantitative","scale":{"domain":[0,1028],"nice":false,"zero":false},"axis":null},"y":{"field":"y","type":"quantitative","scale":{"domain":[0,647],"range":[0,647],"nice":false,"zero":false},"axis":null},"text":{"field":"t"}}},
 {"data":{"name":"texts"},"transform":[{"filter":"datum.r == 'cleg'"}],"mark":{"type":"text","fontSize":10,"color":"#262626","align":"left","baseline":"middle"},
  "encoding":{"x":{"field":"x","type":"quantitative","scale":{"domain":[0,1028],"nice":false,"zero":false},"axis":null},"y":{"field":"y","type":"quantitative","scale":{"domain":[0,647],"range":[0,647],"nice":false,"zero":false},"axis":null},"text":{"field":"t"}}}
]},
{"data":{"name":"c1"},"layer":[
 {"mark":{"type":"bar"},"encoding":{
  "x":{"field":"g","type":"nominal","scale":{"domain":["Rev. hierarchy","Node distance"],"range":[299,405],"paddingInner":0.224,"paddingOuter":0.03},"axis":{"orient":"bottom","offset":-425,"title":null,"ticks":false,"tickSize":0,"labelAngle":0,"labelPadding":6,"labelFontSize":11,"labelLineHeight":14,"labelExpr":"split(datum.label, ' ')"}},
  "xOffset":{"field":"s","type":"nominal","scale":{"domain":["cos01","cos5","gap","rev01","rev5"],"paddingInner":0,"paddingOuter":0}},
  "y":{"field":"v","type":"quantitative","scale":{"domain":[0,67],"range":[222,56.3],"nice":false,"zero":false},"axis":{"orient":"left","offset":-299,"values":[0,10,20,30,40,50,60],"title":"Gradient deviation","titleX":-31.5,"titleY":149,"titleBaseline":"middle","titleAlign":"center"}},
  "color":{"field":"s","type":"nominal","legend":null,"scale":{"domain":["cos01","cos5","rev01","rev5"],"range":["#7c1d1f","#e76868","#1e1e7e","#6b68cf"]}}}},
 {"mark":{"type":"rule","color":"black","strokeWidth":2},"encoding":{
  "x":{"field":"g","type":"nominal"},"xOffset":{"field":"s","type":"nominal"},
  "y":{"field":"lo","type":"quantitative"},"y2":{"field":"hi"}}}
]},
{"data":{"name":"c2"},"layer":[
 {"mark":{"type":"bar"},"encoding":{
  "x":{"field":"g","type":"nominal","scale":{"domain":["Rev. hierarchy","Node distance"],"range":[457,574],"paddingInner":0.2,"paddingOuter":0.044},"axis":{"orient":"bottom","offset":-426.7,"title":null,"ticks":false,"tickSize":0,"labelAngle":0,"labelPadding":6,"labelFontSize":11,"labelLineHeight":14,"labelExpr":"split(datum.label, ' ')"}},
  "xOffset":{"field":"s","type":"nominal","scale":{"domain":["cos01","cos5","gap","rev01","rev5"],"paddingInner":0.05,"paddingOuter":0}},
  "y":{"field":"v","type":"quantitative","scale":{"domain":[0,1.1],"range":[220.3,53.1],"nice":false,"zero":false},"axis":{"orient":"left","offset":-457,"values":[0,0.2,0.4,0.6,0.8,1.0],"format":".1f","title":"Reversal index","titleX":-28,"titleY":144,"titleBaseline":"middle","titleAlign":"center"}},
  "color":{"field":"s","type":"nominal","legend":null,"scale":{"domain":["cos01","cos5","rev01","rev5"],"range":["#7c1d1f","#e76868","#1e1e7e","#6b68cf"]}}}},
 {"mark":{"type":"rule","color":"black","strokeWidth":2},"encoding":{
  "x":{"field":"g","type":"nominal"},"xOffset":{"field":"s","type":"nominal"},
  "y":{"field":"lo","type":"quantitative"},"y2":{"field":"hi"}}}
]},
{"data":{"name":"f"},"layer":[
 {"mark":{"type":"bar","color":"#808080"},"encoding":{
  "x":{"field":"m","type":"nominal","scale":{"domain":["m1","m2","m3"],"range":[972,1033],"paddingInner":0.18,"paddingOuter":0.154},"axis":null},
  "y":{"field":"v","type":"quantitative","scale":{"domain":[0,1],"range":[471.7,340.45],"nice":false,"zero":false},"axis":{"orient":"left","offset":-972,"values":[0,0.2,0.4,0.6,0.8],"format":".1f","title":["Uncertainty","coefficient"],"titleX":-44.5,"titleY":416,"titleBaseline":"middle","titleAlign":"center","titleLineHeight":11}}}},
 {"mark":{"type":"rule","color":"black","strokeWidth":2},"encoding":{
  "x":{"field":"m","type":"nominal","axis":null},"y":{"field":"lo","type":"quantitative"},"y2":{"field":"hi"}}},
 {"mark":{"type":"circle","size":45,"opacity":1},"encoding":{
  "x":{"field":"m","type":"nominal","axis":null},"y":{"field":"u","type":"quantitative"},
  "color":{"field":"m","type":"nominal","legend":null,"scale":{"domain":["m1","m2","m3"],"range":["#1f77b4","#ff7f0e","#2ca02c"]}}}}
]},
{"data":{"name":"g1"},"layer":[
 {"mark":{"type":"bar"},"encoding":{
  "x":{"field":"sp","type":"nominal","scale":{"domain":["1","2","3","4","5","6","7"],"range":[636,816.7],"paddingInner":0.31,"paddingOuter":0.335},"axis":{"orient":"bottom","offset":-32.3,"title":"Split","tickSize":5,"labelAngle":0,"labelPadding":2,"titleX":726.7,"titleY":23,"titleBaseline":"middle","titleAlign":"center"}},
  "xOffset":{"field":"m","type":"nominal","scale":{"domain":["m1","m2","m3"],"paddingInner":0.1,"paddingOuter":0}},
  "y":{"field":"v","type":"quantitative","scale":{"domain":[0,1.012],"range":[606.7,480],"nice":false,"zero":false},"axis":{"orient":"left","offset":-636,"values":[0,0.2,0.4,0.6,0.8],"format":".1f","title":"Reversal index","titleX":-32,"titleY":556.7,"titleBaseline":"middle","titleAlign":"center"}},
  "color":{"field":"m","type":"nominal","legend":null,"scale":{"domain":["m1","m2","m3"],"range":["#1f77b4","#ff7f0e","#2ca02c"]}}}},
 {"mark":{"type":"rule","color":"black","strokeWidth":2.4},"encoding":{
  "x":{"field":"sp","type":"nominal"},"xOffset":{"field":"m","type":"nominal"},
  "y":{"field":"lo","type":"quantitative"},"y2":{"field":"hi"}}}
]},
{"data":{"name":"g2"},"layer":[
 {"mark":{"type":"bar"},"encoding":{
  "x":{"field":"sp","type":"nominal","scale":{"domain":["1","2","3","4","5","6","7"],"range":[850,1049],"paddingInner":0.31,"paddingOuter":0.716},"axis":{"orient":"bottom","offset":-38.7,"title":"Split","tickSize":5,"labelAngle":0,"labelPadding":2,"titleX":950,"titleY":25.7,"titleBaseline":"middle","titleAlign":"center"}},
  "xOffset":{"field":"m","type":"nominal","scale":{"domain":["m1","m2","m3"],"paddingInner":0.1,"paddingOuter":0}},
  "y":{"field":"v","type":"quantitative","scale":{"domain":[0,66.25],"range":[607.3,480],"nice":false,"zero":false},"axis":{"orient":"left","offset":-850,"values":[0,20,40,60],"title":"Gradient deviation","titleX":-22.5,"titleY":548.3,"titleBaseline":"middle","titleAlign":"center"}},
  "color":{"field":"m","type":"nominal","legend":null,"scale":{"domain":["m1","m2","m3"],"range":["#1f77b4","#ff7f0e","#2ca02c"]}}}},
 {"mark":{"type":"rule","color":"black","strokeWidth":2.4},"encoding":{
  "x":{"field":"sp","type":"nominal"},"xOffset":{"field":"m","type":"nominal"},
  "y":{"field":"lo","type":"quantitative"},"y2":{"field":"hi"}}}
]}
]
}
